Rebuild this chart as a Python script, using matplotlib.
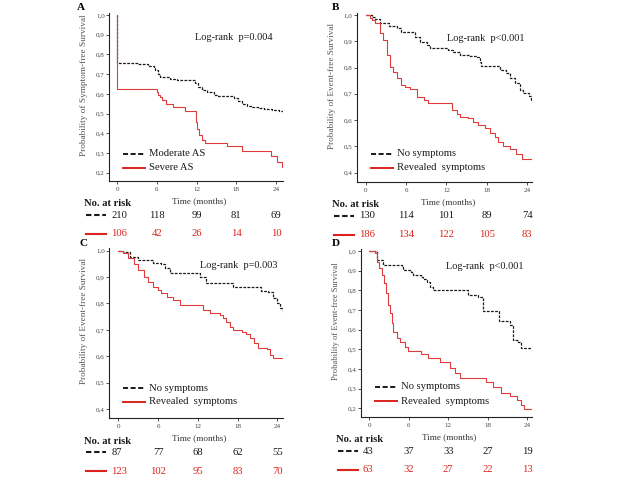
import matplotlib
matplotlib.use('Agg')
import matplotlib.pyplot as plt
from matplotlib.lines import Line2D
from matplotlib.ticker import FuncFormatter

plt.rcParams['font.family'] = ['Liberation Serif', 'DejaVu Serif']

# ---- curves: time (months), survival probability ----
a_mod_t = [0, 0, 3.2, 4.7, 5.5, 5.7, 6.1, 6.5, 8.0, 9.0, 11.7, 12.2, 12.8, 13.6, 14.6, 15.1,
           17.6, 18.3, 18.9, 19.6, 20.4, 21.2, 22.2, 23.4, 24.5, 25.0]
a_mod_s = [1.0, 0.756, 0.751, 0.744, 0.731, 0.719, 0.702, 0.685, 0.677, 0.672, 0.657, 0.636,
           0.618, 0.609, 0.596, 0.589, 0.579, 0.562, 0.55, 0.539, 0.534, 0.529, 0.525, 0.52,
           0.512, 0.508]
a_sev_t = [0, 0, 6.0, 6.1, 6.4, 6.8, 7.3, 8.5, 10.3, 11.9, 12.1, 12.4, 12.8, 13.3, 16.6, 18.9,
           23.3, 24.1, 24.9, 25.0]
a_sev_s = [1.0, 0.623, 0.609, 0.596, 0.584, 0.567, 0.55, 0.534, 0.512, 0.458, 0.424, 0.391,
           0.365, 0.352, 0.335, 0.31, 0.285, 0.256, 0.227, 0.227]

b_no_t = [0, 0.9, 1.4, 2.1, 3.4, 4.6, 5.3, 7.3, 8.1, 9.1, 9.6, 12.3, 13.0, 14.0, 15.5, 16.5,
          17.0, 17.2, 20.0, 20.9, 21.4, 22.2, 22.9, 23.4, 24.2, 24.6, 24.7]
b_no_s = [1.0, 0.992, 0.984, 0.971, 0.956, 0.952, 0.934, 0.917, 0.898, 0.886, 0.876, 0.867,
          0.858, 0.848, 0.844, 0.841, 0.822, 0.806, 0.79, 0.78, 0.759, 0.74, 0.714, 0.702,
          0.692, 0.676, 0.676]
b_rev_t = [0, 0.6, 1.0, 1.4, 2.1, 2.6, 3.1, 3.6, 4.1, 4.6, 5.3, 5.8, 6.6, 7.6, 8.6, 9.3, 12.8,
           13.5, 14.0, 15.2, 16.0, 16.7, 17.7, 18.5, 19.2, 19.7, 20.4, 21.4, 22.4, 23.2, 24.7]
b_rev_s = [1.0, 0.99, 0.98, 0.97, 0.93, 0.905, 0.848, 0.803, 0.784, 0.759, 0.733, 0.725, 0.717,
           0.689, 0.676, 0.664, 0.638, 0.623, 0.613, 0.607, 0.594, 0.581, 0.569, 0.552, 0.537,
           0.518, 0.503, 0.492, 0.473, 0.454, 0.454]

c_no_t = [0, 0.75, 1.8, 3.0, 5.3, 6.5, 7.0, 7.8, 12.3, 13.3, 17.3, 21.6, 22.6, 23.4, 23.9,
          24.4, 24.8]
c_no_s = [1.0, 0.994, 0.977, 0.965, 0.952, 0.948, 0.933, 0.914, 0.902, 0.876, 0.861, 0.847,
          0.842, 0.819, 0.80, 0.782, 0.759]
c_rev_t = [0, 0.75, 1.5, 2.3, 3.0, 3.8, 4.5, 5.3, 6.0, 6.5, 7.3, 8.3, 9.3, 12.8, 13.8, 15.3,
           15.8, 16.3, 16.8, 17.3, 18.6, 19.3, 19.8, 20.4, 21.1, 22.4, 22.9, 23.4, 24.8]
c_rev_s = [1.0, 0.99, 0.971, 0.948, 0.927, 0.902, 0.883, 0.864, 0.851, 0.838, 0.826, 0.813,
           0.794, 0.775, 0.763, 0.756, 0.744, 0.729, 0.712, 0.70, 0.691, 0.683, 0.668, 0.649,
           0.63, 0.627, 0.605, 0.595, 0.595]

d_no_t = [0, 1.1, 2.1, 4.9, 5.2, 6.4, 6.7, 7.9, 8.2, 8.7, 9.2, 9.7, 15.0, 16.6, 17.3, 19.8,
          21.4, 21.9, 22.6, 23.1, 24.7]
d_no_s = [1.0, 0.954, 0.929, 0.92, 0.903, 0.895, 0.878, 0.869, 0.858, 0.844, 0.819, 0.802,
          0.776, 0.768, 0.695, 0.644, 0.624, 0.548, 0.536, 0.508, 0.508]
d_rev_t = [0, 0.86, 1.2, 1.5, 1.9, 2.2, 2.6, 2.9, 3.1, 3.4, 3.6, 4.2, 4.7, 5.4, 5.9, 7.9, 9.0,
           10.7, 12.3, 13.0, 13.8, 17.8, 18.8, 20.1, 21.4, 22.4, 23.1, 23.6, 24.7]
d_rev_s = [1.0, 0.988, 0.946, 0.912, 0.878, 0.836, 0.786, 0.725, 0.683, 0.632, 0.59, 0.556,
           0.536, 0.514, 0.492, 0.475, 0.458, 0.438, 0.403, 0.381, 0.356, 0.336, 0.31, 0.276,
           0.263, 0.242, 0.217, 0.197, 0.197]

# ---- number at risk ----
risk_times = [0, 6, 12, 18, 24]
a_risk_mod = [210, 118, 99, 81, 69]
a_risk_sev = [106, 42, 26, 14, 10]
b_risk_no = [130, 114, 101, 89, 74]
b_risk_rev = [186, 134, 122, 105, 83]
c_risk_no = [87, 77, 68, 62, 55]
c_risk_rev = [123, 102, 95, 83, 70]
d_risk_no = [43, 37, 33, 27, 19]
d_risk_rev = [63, 32, 27, 22, 13]

pvalues = ['p=0.004', 'p<0.001', 'p=0.003', 'p<0.001']

BLACK = '#1a1a1a'
RED_LINE = '#e03c3c'
RED = '#d9231c'
GREY = '#444444'

W, H = 640, 480
fig = plt.figure(figsize=(6.4, 4.8), dpi=100)


def add_axes_px(left, top, right, bottom):
    return fig.add_axes([left / W, 1 - bottom / H, (right - left) / W, (bottom - top) / H])


def comma(v, pos):
    return f'{v:.1f}'.replace('.', ',')


def panel(box, xlim, ylim, yticks, ylabel, ylab_size, black, red, names, risk_black, risk_red,
          pval, pval_xy, leg_y, letter, letter_xy):
    ax = add_axes_px(*box)
    w_px = (box[2] - box[0])
    h_px = (box[3] - box[1])
    ax.step(black[0], black[1], where='post', color=BLACK, lw=0.9, dashes=(2.2, 1.1))
    ax.step(red[0], red[1], where='post', color=RED_LINE, lw=0.8)
    ax.set_xlim(*xlim)
    ax.set_ylim(*ylim)
    ax.set_xticks(risk_times)
    ax.set_yticks(yticks)
    ax.yaxis.set_major_formatter(FuncFormatter(comma))
    for s in ['top', 'right']:
        ax.spines[s].set_visible(False)
    for s in ['left', 'bottom']:
        ax.spines[s].set_linewidth(0.8)
        ax.spines[s].set_color('#222222')
    ax.tick_params(axis='both', length=2, width=0.6, labelsize=5, labelcolor=GREY,
                   color='#333333')
    ax.tick_params(axis='x', pad=2.3)
    ax.tick_params(axis='y', pad=1.2)
    ax.set_ylabel(ylabel, fontsize=ylab_size, color='#555555')
    ax.yaxis.set_label_coords(-21 / w_px, 0.57)

    ax.text(pval_xy[0], pval_xy[1], 'Log-rank  ' + pval, transform=ax.transAxes,
            fontsize=7.4, ha='center', va='center', color=BLACK)

    # legend drawn by hand to sit where the original does
    for (name, col, dash, yy) in [(names[0], BLACK, (2.6, 1.3), leg_y[0]),
                                 (names[1], RED, None, leg_y[1])]:
        yf = yy / h_px
        ln = Line2D([14 / w_px, 36 / w_px], [yf, yf], transform=ax.transAxes, color=col,
                    lw=1.4)
        if dash:
            ln.set_dashes(dash)
        ax.add_line(ln)
        ax.text(40 / w_px, yf, name, transform=ax.transAxes, fontsize=7.7, va='center',
                ha='left', color=BLACK)

    # x label and number-at-risk table
    ax.annotate('Time (months)', xy=(0.52, 0), xycoords='axes fraction', xytext=(0, -20),
                textcoords='offset pixels', ha='center', va='center', fontsize=6.6,
                color='#333333')
    ax.annotate('No. at risk', xy=(0, 0), xycoords='axes fraction', xytext=(-25, -23),
                textcoords='offset pixels', ha='left', va='center', fontsize=7.6,
                fontweight='bold', color=BLACK)
    for row, col, dash, dy in [(risk_black, BLACK, (2.6, 1.3), -34),
                               (risk_red, RED, None, -53)]:
        yf = dy / h_px
        ln = Line2D([-23 / w_px, -3 / w_px], [yf, yf], transform=ax.transAxes, color=col,
                    lw=1.5, clip_on=False)
        if dash:
            ln.set_dashes(dash)
        ax.add_line(ln)
        for i, (t, n) in enumerate(zip(risk_times, row)):
            if i == 0:
                ax.annotate(str(n), xy=(0, 0), xycoords='axes fraction', xytext=(2, dy),
                            textcoords='offset pixels', ha='left', va='center',
                            fontsize=7.7, color=col)
            else:
                ax.annotate(str(n), xy=(t, 0), xycoords=('data', 'axes fraction'),
                            xytext=(0, dy), textcoords='offset pixels', ha='center',
                            va='center', fontsize=7.7, color=col)

    fig.text(letter_xy[0] / W, 1 - letter_xy[1] / H, letter, fontsize=8, fontweight='bold',
             ha='left', va='center')
    return ax


ev_label = 'Probability of Event-free Survival'

panel((109.3, 13.3, 282.7, 181), (-1.2, 25.0), (0.158, 1.009),
      [0.2, 0.3, 0.4, 0.5, 0.6, 0.7, 0.8, 0.9, 1.0],
      'Probability of Symptom-free Survival', 6.7,
      (a_mod_t, a_mod_s), (a_sev_t, a_sev_s), ['Moderate AS', 'Severe AS'],
      a_risk_mod, a_risk_sev, pvalues[0], (0.716, 0.853), (27, 13), 'A', (77, 7))

panel((356.7, 13.3, 531.7, 181.7), (-1.34, 24.67), (0.366, 1.006),
      [0.4, 0.5, 0.6, 0.7, 0.8, 0.9, 1.0], ev_label, 6.6,
      (b_no_t, b_no_s), (b_rev_t, b_rev_s), ['No symptoms', 'Revealed  symptoms'],
      b_risk_no, b_risk_rev, pvalues[1], (0.735, 0.852), (27.7, 14), 'B', (332, 7))

panel((109.3, 248.3, 282.7, 418.3), (-1.36, 24.8), (0.365, 1.009),
      [0.4, 0.5, 0.6, 0.7, 0.8, 0.9, 1.0], ev_label, 6.6,
      (c_no_t, c_no_s), (c_rev_t, c_rev_s), ['No symptoms', 'Revealed  symptoms'],
      c_risk_no, c_risk_rev, pvalues[2], (0.746, 0.898), (30, 16.6), 'C', (80, 243))

panel((360.7, 248.5, 531.7, 417), (-1.31, 24.7), (0.156, 1.013),
      [0.2, 0.3, 0.4, 0.5, 0.6, 0.7, 0.8, 0.9, 1.0], ev_label, 6.1,
      (d_no_t, d_no_s), (d_rev_t, d_rev_s), ['No symptoms', 'Revealed  symptoms'],
      d_risk_no, d_risk_rev, pvalues[3], (0.727, 0.896), (30.3, 16), 'D', (332, 243))

fig.savefig('out.png', dpi=100)
